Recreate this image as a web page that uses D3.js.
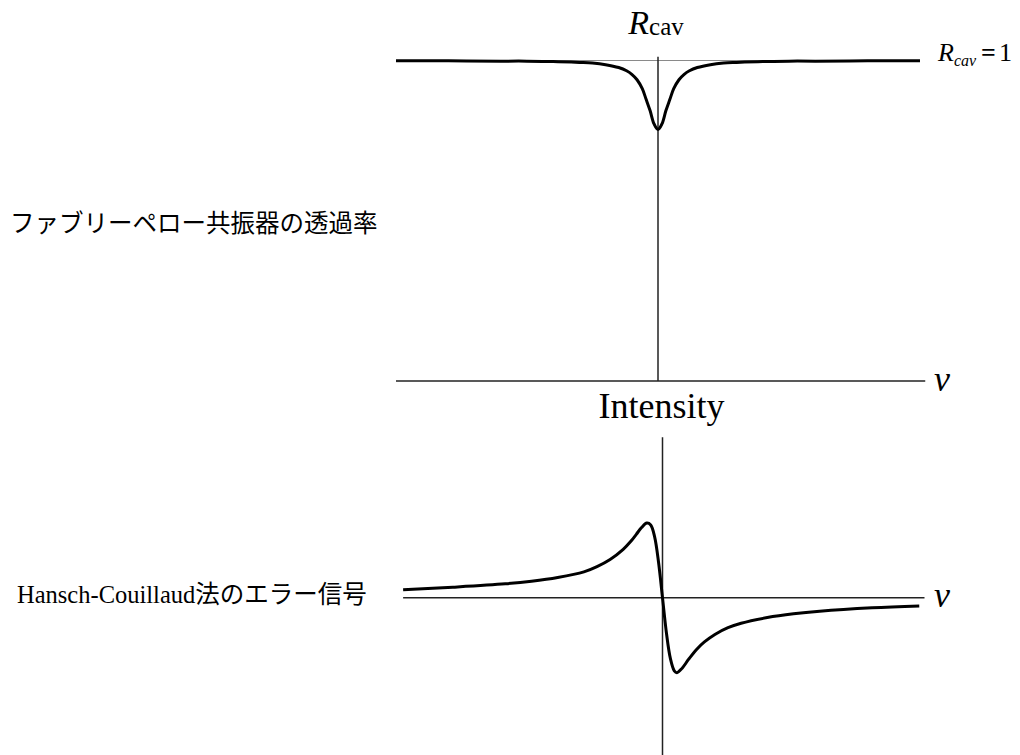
<!DOCTYPE html>
<html>
<head>
<meta charset="utf-8">
<script src="https://cdn.jsdelivr.net/npm/d3@7/dist/d3.min.js"></script>
<style>
  html, body { margin: 0; padding: 0; background: #fff; }
  svg { display: block; }
  .serif { font-family: "Liberation Serif", "DejaVu Serif", serif; }
  .cjk { font-family: "Noto Sans CJK JP", sans-serif; }
</style>
</head>
<body>
<svg id="chart" width="1020" height="755"></svg>
<script>
// Cavity reflection R_cav around resonance (detuning in arbitrary units)
const cavNu = [-10, -8, -6, -5, -4, -3, -2.5, -2, -1.5, -1.2, -1, -0.8, -0.6, -0.45, -0.3, -0.15, 0,
               0.15, 0.3, 0.45, 0.6, 0.8, 1, 1.2, 1.5, 2, 2.5, 3, 4, 5, 6, 8, 10];
const cavR  = [0.9995, 0.999, 0.998, 0.998, 0.997, 0.994, 0.992, 0.987, 0.978, 0.968, 0.957, 0.94, 0.912, 0.878, 0.843, 0.802, 0.785,
               0.802, 0.843, 0.878, 0.912, 0.94, 0.957, 0.968, 0.978, 0.987, 0.992, 0.994, 0.997, 0.998, 0.998, 0.999, 0.9995];

// Hansch-Couillaud error signal (normalised to peak = 1)
const hcNu  = [-9.9, -8, -6, -5, -4, -3, -2.5, -2, -1.5, -1.2, -1, -0.8, -0.6, -0.45, -0.3, -0.15, 0,
               0.15, 0.3, 0.45, 0.55, 0.75, 1, 1.3, 1.6, 2, 2.5, 3, 4, 5, 6, 8, 9.8];
const hcSig = [0.105, 0.14, 0.185, 0.22, 0.27, 0.345, 0.415, 0.51, 0.645, 0.755, 0.845, 0.935, 0.995, 0.97, 0.81, 0.47, 0,
               -0.47, -0.81, -0.975, -1.0, -0.94, -0.82, -0.69, -0.59, -0.49, -0.4, -0.34, -0.265, -0.215, -0.18, -0.135, -0.11];

// Axis labels
const cavTitle = { main: "R", sub: "cav" };
const cavLevel = { main: "R", sub: "cav", rest: "1" };
const hcTitle = "Intensity";
const axisVar = "ν";
const cavLabel = "ファブリーペロー共振器の透過率";
const hcLabelLatin = "Hansch-Couillaud";
const hcLabelCjk = "法のエラー信号";

const svg = d3.select("#chart");

// ---------- upper panel: cavity reflection ----------
const xTop = d3.scaleLinear().domain([-10, 10]).range([396, 920]);
const yTop = d3.scaleLinear().domain([0, 1]).range([381, 60.5]);

const upper = svg.append("g");

// reference level R = 1
upper.append("line")
  .attr("x1", xTop(-10)).attr("x2", xTop(10))
  .attr("y1", yTop(1)).attr("y2", yTop(1))
  .attr("stroke", "#8a8a8a").attr("stroke-width", 1);

// axes
upper.append("line")
  .attr("x1", xTop(-10)).attr("x2", xTop(10.2))
  .attr("y1", yTop(0)).attr("y2", yTop(0))
  .attr("stroke", "#222").attr("stroke-width", 1.5);
upper.append("line")
  .attr("x1", xTop(0)).attr("x2", xTop(0))
  .attr("y1", yTop(1.012)).attr("y2", yTop(0))
  .attr("stroke", "#222").attr("stroke-width", 1.5);

const cavLine = d3.line()
  .x((d, i) => xTop(cavNu[i]))
  .y(d => yTop(d))
  .curve(d3.curveCatmullRom.alpha(0.5));

upper.append("path")
  .attr("d", cavLine(cavR))
  .attr("fill", "none")
  .attr("stroke", "#000")
  .attr("stroke-width", 3)
  .attr("stroke-linejoin", "round");

// title R_cav
const t1 = upper.append("text").attr("class", "serif")
  .attr("x", xTop(0) - 2).attr("y", 34).attr("text-anchor", "middle").attr("fill", "#000");
t1.append("tspan").attr("font-style", "italic").attr("font-size", 34).text(cavTitle.main);
t1.append("tspan").attr("font-size", 25).attr("dy", 1).text(cavTitle.sub);

// R_cav = 1 annotation
const t2 = upper.append("text").attr("class", "serif")
  .attr("x", 938).attr("y", 61).attr("fill", "#000");
t2.append("tspan").attr("font-style", "italic").attr("font-size", 26).text(cavLevel.main);
t2.append("tspan").attr("font-style", "italic").attr("font-size", 16).attr("dy", 5).text(cavLevel.sub);
t2.append("tspan").attr("font-size", 26).attr("font-weight", "bold").attr("dy", -5).attr("dx", 5).text("=");
t2.append("tspan").attr("font-size", 26).attr("dx", 3).text(cavLevel.rest);

upper.append("text").attr("class", "serif")
  .attr("x", 934).attr("y", 391)
  .attr("font-style", "italic").attr("font-size", 36).attr("fill", "#000")
  .text(axisVar);

upper.append("text").attr("class", "cjk")
  .attr("x", 10).attr("y", 232)
  .attr("font-size", 24.5).attr("fill", "#000")
  .text(cavLabel);

// ---------- lower panel: Hansch-Couillaud error signal ----------
const xBot = d3.scaleLinear().domain([-10, 10]).range([400.5, 924.5]);
const yBot = d3.scaleLinear().domain([-1, 1]).range([672.7, 522.7]);

const lower = svg.append("g");

lower.append("line")
  .attr("x1", xBot(-9.9)).attr("x2", xBot(10))
  .attr("y1", yBot(0)).attr("y2", yBot(0))
  .attr("stroke", "#222").attr("stroke-width", 1.5);
lower.append("line")
  .attr("x1", xBot(0)).attr("x2", xBot(0))
  .attr("y1", yBot(2.14)).attr("y2", yBot(-2.2))
  .attr("stroke", "#222").attr("stroke-width", 1.5);

const hcLine = d3.line()
  .x((d, i) => xBot(hcNu[i]))
  .y(d => yBot(d))
  .curve(d3.curveCatmullRom.alpha(0.5));

lower.append("path")
  .attr("d", hcLine(hcSig))
  .attr("fill", "none")
  .attr("stroke", "#000")
  .attr("stroke-width", 3)
  .attr("stroke-linejoin", "round");

lower.append("text").attr("class", "serif")
  .attr("x", xBot(0) - 1).attr("y", 418).attr("text-anchor", "middle")
  .attr("font-size", 36).attr("fill", "#000")
  .text(hcTitle);

lower.append("text").attr("class", "serif")
  .attr("x", 934).attr("y", 607)
  .attr("font-style", "italic").attr("font-size", 36).attr("fill", "#000")
  .text(axisVar);

const t3 = lower.append("text").attr("x", 17).attr("y", 603).attr("fill", "#000").attr("font-size", 24.5);
t3.append("tspan").attr("class", "serif").text(hcLabelLatin);
t3.append("tspan").attr("class", "cjk").text(hcLabelCjk);
</script>
</body>
</html>
